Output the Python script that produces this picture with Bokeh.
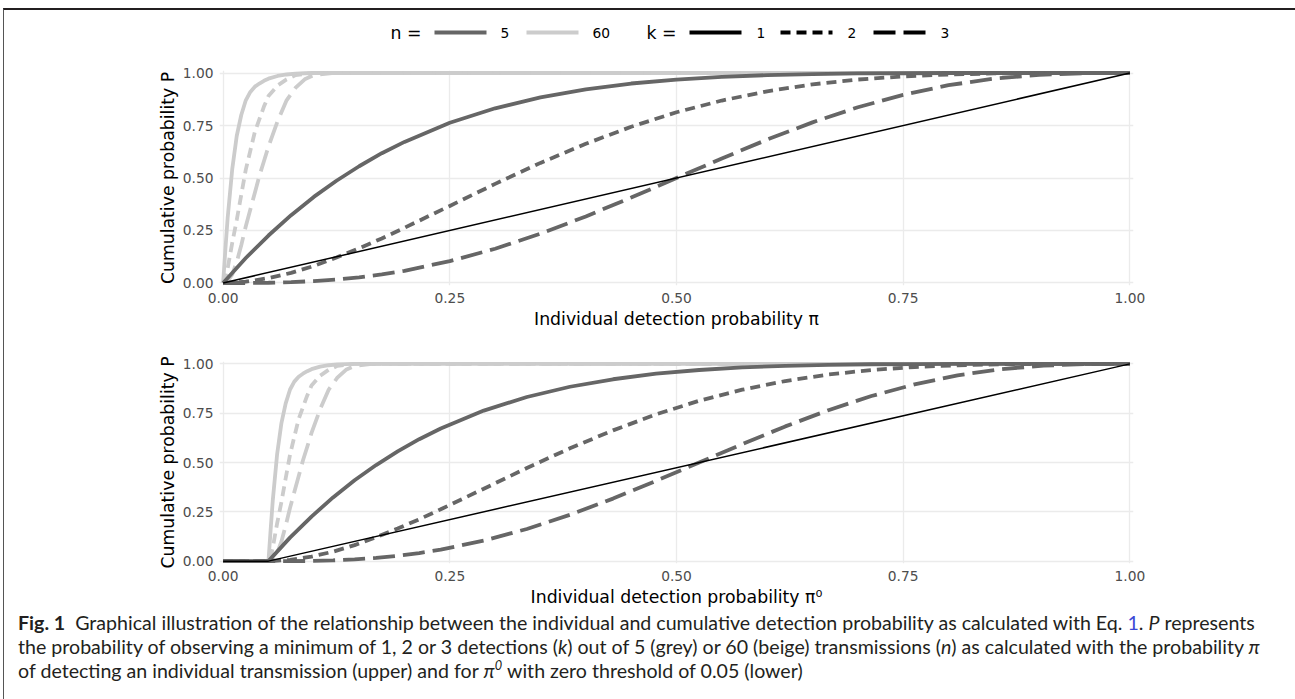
from bokeh.plotting import figure
from bokeh.models import Range1d, FixedTicker, NumeralTickFormatter, Div
from bokeh.layouts import column
from bokeh.embed import file_html
from bokeh.resources import INLINE
from bokeh.core.properties import value

# ---------------- data ----------------
ticks = [0, 0.25, 0.5, 0.75, 1.0]

# n = 5 transmissions (grey)
dark_x = [0, 0.025, 0.05, 0.075, 0.10, 0.125, 0.15, 0.175, 0.20, 0.25, 0.30, 0.35, 0.40,
          0.45, 0.50, 0.55, 0.60, 0.65, 0.70, 0.75, 0.80, 0.85, 0.90, 0.95, 1.00]
dark_k1 = [0, 0.119, 0.226, 0.323, 0.410, 0.487, 0.556, 0.618, 0.672, 0.763, 0.832, 0.884, 0.922,
           0.950, 0.969, 0.982, 0.990, 0.995, 0.998, 0.999, 1.0, 1.0, 1.0, 1.0, 1.0]
dark_k2 = [0, 0.006, 0.023, 0.048, 0.081, 0.121, 0.165, 0.212, 0.263, 0.367, 0.472, 0.572, 0.663,
           0.744, 0.813, 0.869, 0.913, 0.946, 0.969, 0.984, 0.993, 0.998, 1.0, 1.0, 1.0]
dark_k3 = [0, 0.000, 0.001, 0.004, 0.009, 0.016, 0.027, 0.041, 0.058, 0.104, 0.163, 0.235, 0.317,
           0.407, 0.500, 0.593, 0.683, 0.765, 0.837, 0.896, 0.942, 0.973, 0.991, 0.999, 1.0]
# lower panel (pi0, zero threshold 0.05)
dark_x_lower = [0, 0.05, 0.07375, 0.0975, 0.12125, 0.145, 0.16875, 0.1925, 0.21625, 0.24, 0.2875,
                0.335, 0.3825, 0.43, 0.4775, 0.525, 0.5725, 0.62, 0.6675, 0.715, 0.7625, 0.81,
                0.8575, 0.905, 0.9525, 1.0]

# n = 60 transmissions (beige / light grey)
light_x = [0, 0.0025, 0.005, 0.01, 0.015, 0.02, 0.025, 0.03, 0.035, 0.04, 0.045, 0.05, 0.06,
           0.07, 0.08, 0.09, 0.10, 0.12, 0.15, 0.20, 1.00]
light_k1 = [0, 0.16, 0.31, 0.54, 0.70, 0.80, 0.87, 0.91, 0.935, 0.95, 0.963, 0.973, 0.986,
            0.993, 0.997, 0.999, 1.0, 1.0, 1.0, 1.0, 1.0]
light_k2 = [0, 0.02, 0.07, 0.19, 0.30, 0.42, 0.54, 0.63, 0.72, 0.78, 0.84, 0.89, 0.94,
            0.97, 0.99, 0.995, 1.0, 1.0, 1.0, 1.0, 1.0]
light_k3 = [0, 0.002, 0.01, 0.04, 0.10, 0.18, 0.27, 0.35, 0.43, 0.51, 0.58, 0.65, 0.77,
            0.87, 0.93, 0.97, 0.99, 1.0, 1.0, 1.0, 1.0]
light_x_lower = [0, 0.05, 0.0524, 0.0548, 0.0595, 0.0643, 0.069, 0.0738, 0.0785, 0.0833, 0.088,
                 0.0928, 0.0975, 0.107, 0.1165, 0.126, 0.1355, 0.145, 0.164, 0.1925, 0.24, 1.0]

# reference line (k = 1, single transmission)
ref_x_upper = [0, 1.0]
ref_y_upper = [0, 1.0]
ref_x_lower = [0, 0.05, 1.0]
ref_y_lower = [0, 0, 1.0]

n_levels = ["5", "60"]
k_levels = ["1", "2", "3"]

# ---------------- styles / layout ----------------
DARK = "#666666"
LIGHT = "#cccccc"
DASH = {"1": "solid", "2": "10 6", "3": "22 8"}
CW = 1288          # content width inside the frame
ML, MT = 3, 8      # outer margins of the framed figure
BL, BT = 1, 2      # border widths (left, top)
FL = 215           # left border of the plot frames
FW = 914           # plot frame width
FR = CW - FL - FW
FONT = "DejaVu Sans"
X0 = ML + BL       # page x of content start
Y0 = MT + BT       # page y of content start
LW = 3.8


def panel(xlabel, top, fh, bottom, xl, xd, xr, yr, prefix):
    p = figure(frame_width=FW, frame_height=fh,
               x_range=Range1d(-0.004, 1.004), y_range=Range1d(-0.012, 1.012),
               min_border_left=FL, min_border_right=FR, min_border_top=top,
               min_border_bottom=bottom, output_backend="svg", toolbar_location=None)
    p.outline_line_color = None
    p.background_fill_color = "white"
    p.border_fill_color = "white"
    p.xaxis.axis_label = xlabel
    p.yaxis.axis_label = "Cumulative probability P"
    for ax in (p.xaxis, p.yaxis):
        ax.ticker = FixedTicker(ticks=ticks)
        ax.formatter = NumeralTickFormatter(format="0.00")
        ax.axis_line_color = None
        ax.major_tick_line_color = None
        ax.minor_tick_line_color = None
        ax.major_tick_out = 0
        ax.major_tick_in = 0
        ax.minor_tick_out = 0
        ax.minor_tick_in = 0
        ax.major_label_text_font = FONT
        ax.major_label_text_font_size = "13.8px"
        ax.major_label_text_color = "#4d4d4d"
        ax.axis_label_text_font = FONT
        ax.axis_label_text_font_size = "17.3px"
        ax.axis_label_text_font_style = "normal"
        ax.axis_label_text_color = "#000000"
    p.xaxis.major_label_standoff = 7
    p.yaxis.major_label_standoff = 6
    p.xaxis.axis_label_standoff = 3
    p.yaxis.axis_label_standoff = 2
    p.grid.grid_line_color = "#ebebeb"
    p.grid.grid_line_width = 1.3

    ys_light = [light_k1, light_k2, light_k3]
    ys_dark = [dark_k1, dark_k2, dark_k3]
    for k, yv in zip(k_levels, ys_light):
        p.line(xl, prefix + yv, line_color=LIGHT, line_width=LW, line_dash=DASH[k])
    for k, yv in zip(k_levels, ys_dark):
        p.line(xd, prefix + yv, line_color=DARK, line_width=LW, line_dash=DASH[k])
    p.line(xr, yr, line_color="#000000", line_width=1.5)
    return p


upper = panel("Individual detection probability \u03c0", 27, 215, 47,
              light_x, dark_x, ref_x_upper, ref_y_upper, [])
lower = panel("Individual detection probability \u03c0\u2070", 29, 202, 51,
              light_x_lower, dark_x_lower, ref_x_lower, ref_y_lower, [0.0])

# ---------------- legend strip (positions in page pixels) ----------------
LH = 33
fx0 = X0 + FL
leg = figure(frame_width=FW, frame_height=LH,
             x_range=Range1d(fx0, fx0 + FW), y_range=Range1d(Y0 + LH, Y0),
             min_border_left=FL, min_border_right=FR, min_border_top=0, min_border_bottom=0,
             output_backend="svg", toolbar_location=None)
leg.axis.visible = False
leg.grid.visible = False
leg.outline_line_color = None
ly = 32
key_len = 52
leg.text(x=[390], y=[ly], text=["n ="], text_font=value(FONT), text_font_size=value("17.3px"),
         text_color="#000000", text_baseline="middle", text_align="left")
n_cols = [DARK, LIGHT]
n_key_x = [434, 526]
for lab, col, kx in zip(n_levels, n_cols, n_key_x):
    leg.line([kx, kx + key_len], [ly, ly], line_color=col, line_width=4)
    leg.text(x=[kx + key_len + 14], y=[ly], text=[lab], text_font=value(FONT),
             text_font_size=value("13.8px"), text_color="#000000",
             text_baseline="middle", text_align="left")
leg.text(x=[646], y=[ly], text=["k ="], text_font=value(FONT), text_font_size=value("17.3px"),
         text_color="#000000", text_baseline="middle", text_align="left")
k_key_x = [689, 780, 873]
for lab, kx in zip(k_levels, k_key_x):
    leg.line([kx, kx + key_len], [ly, ly], line_color="#000000", line_width=4,
             line_dash=DASH[lab])
    leg.text(x=[kx + key_len + 15], y=[ly], text=[lab], text_font=value(FONT),
             text_font_size=value("13.8px"), text_color="#000000",
             text_baseline="middle", text_align="left")

# ---------------- caption ----------------
cap_html = (
    '<div style="font-family:Lato, \'Open Sans\', sans-serif; font-size:19.6px; line-height:24px; '
    'color:#231f20; padding:0 0 0 9px; white-space:nowrap; position:relative; top:-8px;">'
    '<b>Fig.&nbsp;1</b>&nbsp;&nbsp;Graphical illustration of the relationship between the individual and '
    'cumulative detection probability as calculated with Eq. <span style="color:#3b48d6">1</span>. '
    '<i>P</i> represents<br>'
    'the probability of observing a minimum of 1, 2 or 3 detections (<i>k</i>) out of 5 (grey) or 60 '
    '(beige) transmissions (<i>n</i>) as calculated with the probability <i>&pi;</i><br>'
    'of detecting an individual transmission (upper) and for <i>&pi;<sup style="line-height:0;'
    'font-size:65%">0</sup></i> with zero threshold of 0.05 (lower)</div>'
)
cap = Div(text=cap_html, width=CW, height=82)

page = column(leg, upper, lower, cap, spacing=0, margin=(MT, 0, 0, ML),
              styles={"border-top": "2px solid #231f20", "border-left": "1px solid #555555",
                      "border-right": "1px solid #555555", "border-bottom": "1px solid #555555",
                      "border-bottom-right-radius": "10px", "background": "white"})

open("out.html", "w").write(file_html(page, INLINE))
